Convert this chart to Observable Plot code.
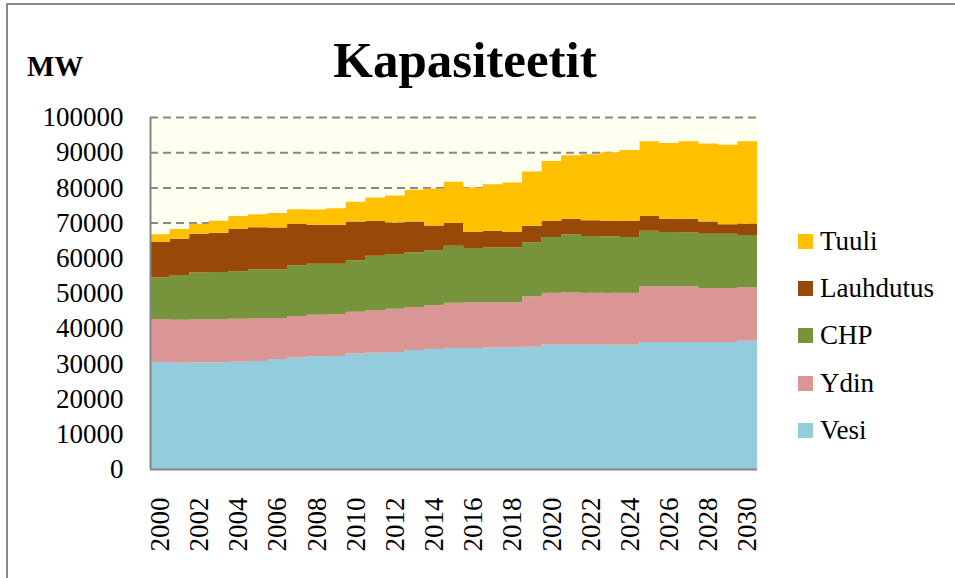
<!DOCTYPE html>
<html>
<head>
<meta charset="utf-8">
<script src="https://cdn.jsdelivr.net/npm/d3@7"></script>
<script src="https://cdn.jsdelivr.net/npm/@observablehq/plot@0.6"></script>
<style>
  html, body { margin: 0; padding: 0; background: #fff; overflow: hidden; }
  #wrap { position: relative; width: 955px; height: 578px; font-family: "Liberation Serif", serif; }
  #border { position: absolute; left: 6px; top: 3px; width: 980px; height: 600px; border: 2px solid #8c8c8c; box-sizing: border-box; }
  #chart { position: absolute; left: 0; top: 0; }
  #chart svg g[aria-label="y-axis tick label"] text { letter-spacing: 1.2px; }
  #title { position: absolute; left: 265px; width: 400px; top: 35px; text-align: center; font-size: 51px; line-height: 50px; font-weight: bold; }
  #unit { position: absolute; left: 27px; top: 52px; font-size: 29px; line-height: 28px; font-weight: bold; }
  .leg { position: absolute; left: 798px; display: flex; align-items: center; font-size: 27px; height: 30px; }
  .leg span.sw { display: inline-block; width: 15px; height: 15px; margin-right: 7px; }
</style>
</head>
<body>
<div id="wrap">
  <div id="border"></div>
  <div id="chart"></div>
  <div id="title">Kapasiteetit</div>
  <div id="unit">MW</div>
  <div id="legend"></div>
</div>
<script>
const years = [2000,2001,2002,2003,2004,2005,2006,2007,2008,2009,2010,2011,2012,2013,2014,2015,2016,2017,2018,2019,2020,2021,2022,2023,2024,2025,2026,2027,2028,2029,2030];
const yearLabels = [2000,2002,2004,2006,2008,2010,2012,2014,2016,2018,2020,2022,2024,2026,2028,2030];
const yTicks = [0,10000,20000,30000,40000,50000,60000,70000,80000,90000,100000];

const seriesNames = ["Vesi","Ydin","CHP","Lauhdutus","Tuuli"];
const seriesColors = ["#93CDDD","#D99694","#77933C","#984807","#FFC000"];

const vesi = [30400,30200,30300,30300,30500,30700,31250,31700,32000,32100,32800,33000,33200,33800,34100,34400,34400,34500,34600,34700,35400,35400,35400,35300,35300,36100,36100,36100,36100,36100,36400];
const ydin = [12200,12200,12300,12300,12200,12200,11650,11800,11800,11900,11900,12200,12300,12200,12400,12800,13000,12900,12800,14400,14700,14800,14700,14800,14800,15800,15800,15800,15300,15300,15300];
const chp = [11900,12700,13200,13400,13500,13800,13800,14400,14500,14300,14600,15400,15600,15600,15600,16200,15400,15500,15500,15300,15800,16500,16100,16000,15800,15800,15400,15300,15400,15400,14800];
const lauhdutus = [10000,10300,11000,11100,12000,12000,11900,11700,11100,11100,11000,9900,8900,8700,7100,6500,4500,4700,4400,4700,4600,4400,4500,4400,4600,4200,3800,3900,3500,2700,3200];
const tuuli = [2200,2800,2900,3400,3700,3700,4100,4200,4300,4700,5600,6600,7700,9000,10500,11700,12700,13300,14100,15400,17000,18000,18700,19500,20100,21200,21500,22000,22200,22600,23400];

const seriesValues = [vesi, ydin, chp, lauhdutus, tuuli];

// Each year fills one column: add the closing edge of the last column.
const lastYear = years[years.length - 1];
const edges = [...years, lastYear + 1];
const rows = [];
seriesNames.forEach((name, si) => {
  edges.forEach((yr, i) => {
    rows.push({year: yr, series: name, value: seriesValues[si][Math.min(i, years.length - 1)]});
  });
});

const chart = Plot.plot({
  width: 955,
  height: 578,
  marginLeft: 150,
  marginRight: 198,
  marginTop: 117,
  marginBottom: 109,
  style: { fontFamily: "Liberation Serif", fontSize: "27px", color: "#000", background: "transparent", overflow: "visible" },
  x: { domain: [years[0], lastYear + 1], axis: null, label: null },
  y: { domain: [0, 100000], axis: null, label: null },
  color: { domain: seriesNames, range: seriesColors },
  marks: [
    Plot.frame({ fill: "#FFFFF0", stroke: null }),
    Plot.ruleY(yTicks.filter(d => d > 0), { stroke: "#888888", strokeWidth: 2, strokeDasharray: "8,5" }),
    Plot.areaY(rows, { x: "year", y: "value", fill: "series", curve: "step-after" }),
    Plot.axisY({ ticks: yTicks, tickFormat: d3.format("d"), tickSize: 0, tickPadding: 27, fontSize: 27, label: null, ariaLabel: "y-axis tick label" }),
    Plot.axisX({ ticks: yearLabels.map(y => y + 0.5), tickFormat: d => String(Math.round(d - 0.5)), tickRotate: -90, tickSize: 0, tickPadding: 28, fontSize: 27, label: null }),
    Plot.ruleX([years[0]], { stroke: "#868686", strokeWidth: 2 }),
    Plot.ruleY([0], { stroke: "#868686", strokeWidth: 2 })
  ]
});
document.getElementById("chart").appendChild(chart);

// Legend (top to bottom: reverse stack order)
const legendTops = [226, 273, 320, 368, 415];
const legend = document.getElementById("legend");
[...seriesNames].reverse().forEach((name, i) => {
  const color = seriesColors[seriesNames.indexOf(name)];
  const d = document.createElement("div");
  d.className = "leg";
  d.style.top = legendTops[i] + "px";
  d.innerHTML = `<span class="sw" style="background:${color}"></span><span>${name}</span>`;
  legend.appendChild(d);
});
</script>
</body>
</html>
